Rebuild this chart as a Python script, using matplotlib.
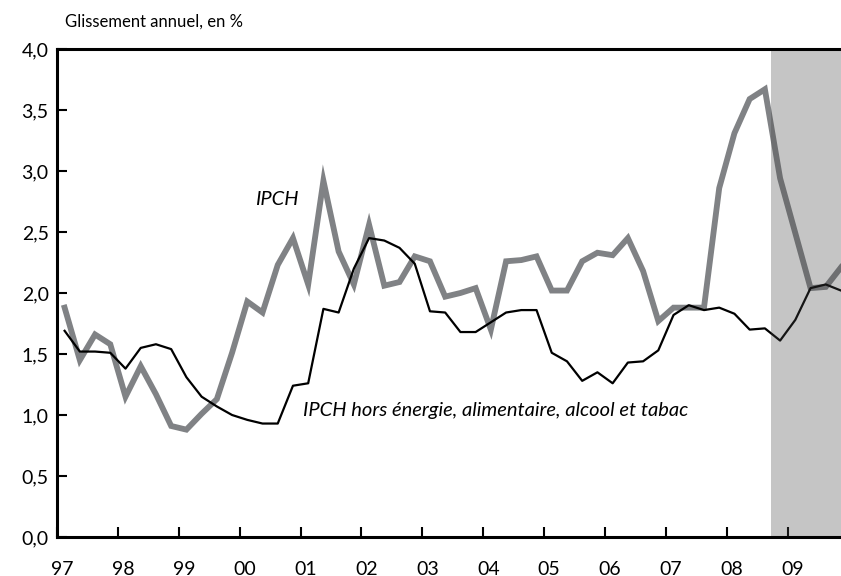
import matplotlib
matplotlib.use("Agg")
import matplotlib.pyplot as plt
import matplotlib.transforms as mtransforms
import numpy as np

plt.rcParams["font.family"] = ["Lato", "DejaVu Sans"]

# Données trimestrielles, 1997T1 - 2009T4 (glissement annuel, en %)
ipch = [
    1.88, 1.45, 1.66, 1.58,   # 1997
    1.15, 1.40, 1.17, 0.91,   # 1998
    0.88, 1.01, 1.13, 1.51,   # 1999
    1.93, 1.84, 2.23, 2.45,   # 2000
    2.07, 2.92, 2.34, 2.07,   # 2001
    2.56, 2.06, 2.09, 2.30,   # 2002
    2.26, 1.97, 2.00, 2.04,   # 2003
    1.70, 2.26, 2.27, 2.30,   # 2004
    2.02, 2.02, 2.26, 2.33,   # 2005
    2.31, 2.45, 2.18, 1.77,   # 2006
    1.88, 1.88, 1.88, 2.86,   # 2007
    3.31, 3.59, 3.67, 2.94,   # 2008
    2.49, 2.04, 2.05, 2.21,   # 2009
]
ipch_sj = [
    1.69, 1.52, 1.52, 1.51,
    1.38, 1.55, 1.58, 1.54,
    1.31, 1.15, 1.07, 1.00,
    0.96, 0.93, 0.93, 1.24,
    1.26, 1.87, 1.84, 2.20,
    2.45, 2.43, 2.37, 2.24,
    1.85, 1.84, 1.68, 1.68,
    1.76, 1.84, 1.86, 1.86,
    1.51, 1.44, 1.28, 1.35,
    1.26, 1.43, 1.44, 1.53,
    1.82, 1.90, 1.86, 1.88,
    1.83, 1.70, 1.71, 1.61,
    1.78, 2.04, 2.07, 2.02,
]
years = list(range(1997, 2010))
year_labels = ["97", "98", "99", "00", "01", "02", "03", "04", "05", "06", "07", "08", "09"]
prevision_debut = 2008.72

# position au milieu de chaque trimestre
t = np.array([y + (q + 0.5) / 4 for y in years for q in range(4)])

fig = plt.figure(figsize=(8.41, 5.76), dpi=100)
ax = fig.add_axes([57 / 841, 1 - 537 / 576, 1 - 57 / 841, (537 - 49) / 576])

ax.plot(t, ipch, color="#808285", lw=4.2, solid_joinstyle="miter", zorder=2)
ax.plot(t, ipch_sj, color="black", lw=1.6, zorder=3)
ax.axvspan(prevision_debut, 2010, color="#464646", alpha=0.31, lw=0, zorder=4)

ax.set_xlim(1997, 2009.875)
ax.set_ylim(0, 4.0)

ax.set_yticks(np.arange(0, 4.01, 0.5))
ax.set_yticklabels([f"{v:.1f}".replace(".", ",") for v in np.arange(0, 4.01, 0.5)])
ax.set_xticks(years)
ax.set_xticklabels(year_labels)
ax.tick_params(axis="both", direction="in", length=7, width=1.5, labelsize=14, colors="black")
ax.tick_params(axis="x", pad=17)
ax.tick_params(axis="y", pad=6)
offset = mtransforms.ScaledTranslation(5 / 100, 0, fig.dpi_scale_trans)
for lab in ax.get_xticklabels():
    lab.set_transform(lab.get_transform() + offset)

for side in ["left", "bottom", "top"]:
    ax.spines[side].set_linewidth(2.2)
    ax.spines[side].set_zorder(5)
ax.spines["right"].set_visible(False)

fig.text(65 / 841, 1 - 22 / 576, "Glissement annuel, en %", fontsize=12, va="center", ha="left")
ax.text(2000.25, 2.77, "IPCH", fontsize=14.5, style="italic", ha="left", va="center")
ax.text(2001.04, 1.04, "IPCH hors énergie, alimentaire, alcool et tabac", fontsize=14.5,
        style="italic", ha="left", va="center")

fig.savefig("out.png", dpi=100)
